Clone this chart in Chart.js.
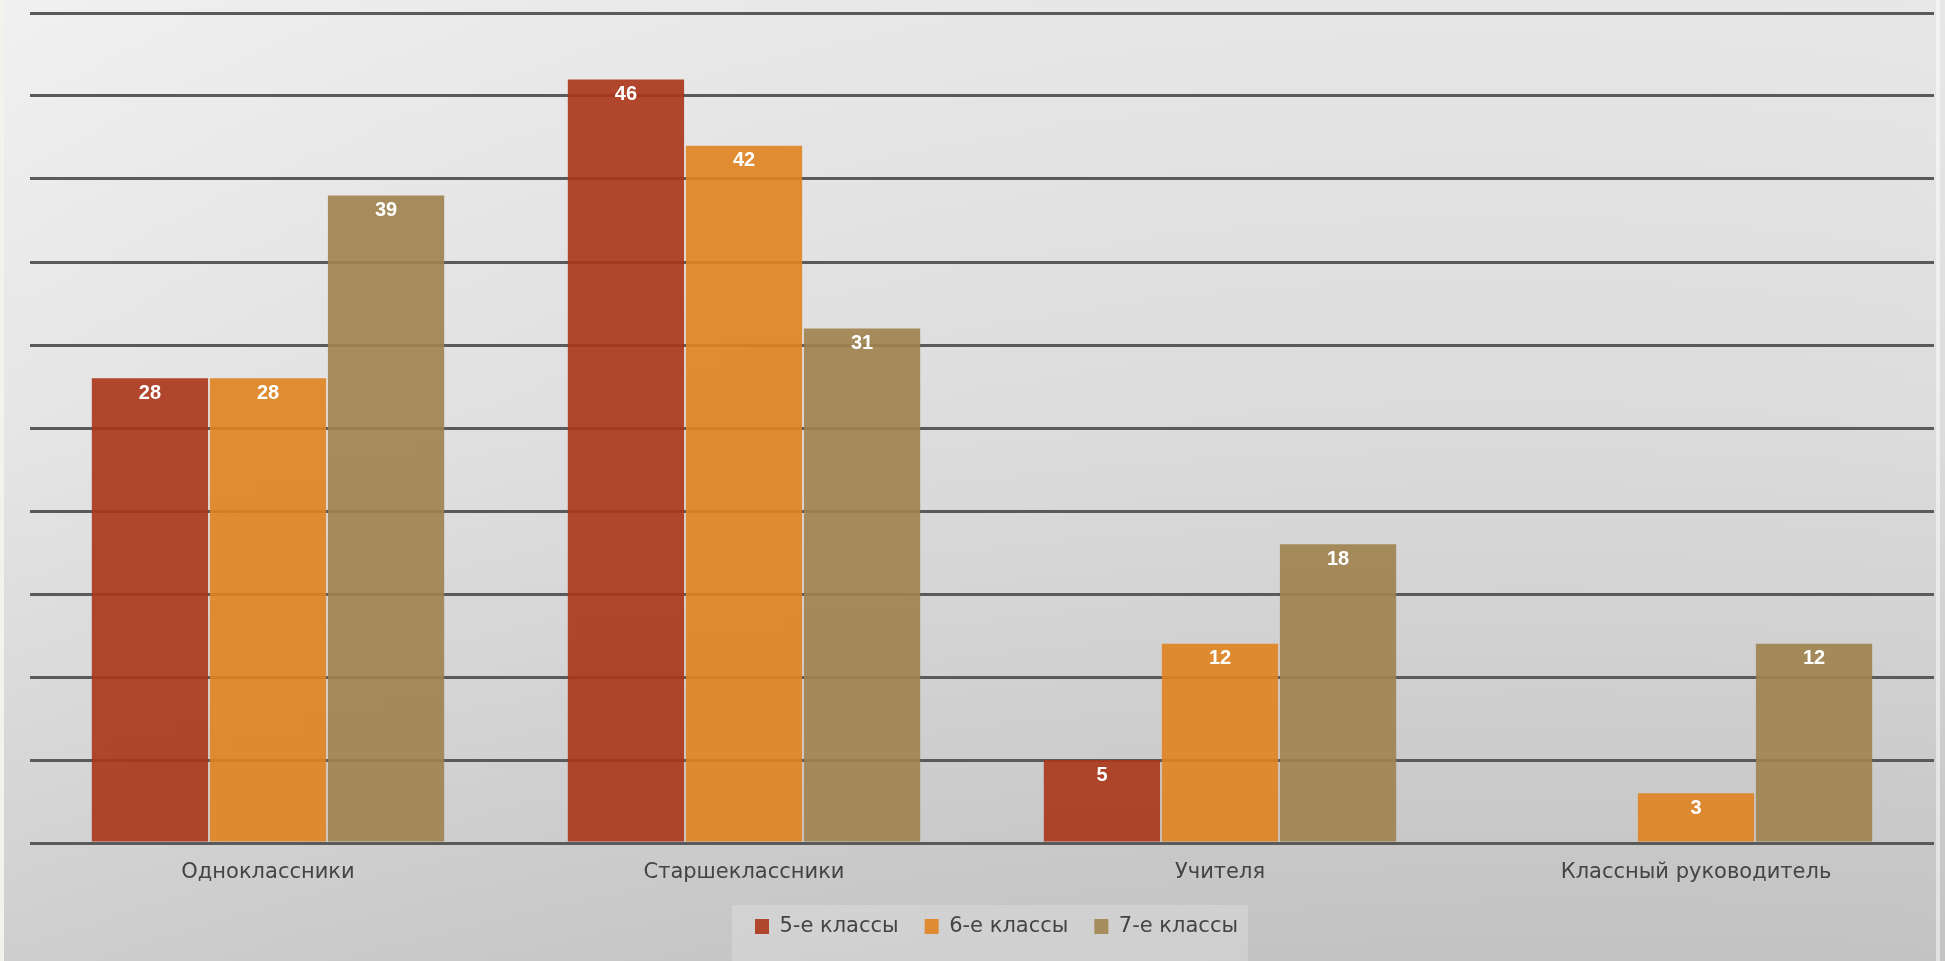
<!DOCTYPE html>
<html><head><meta charset="utf-8">
<script src="https://cdn.jsdelivr.net/npm/chart.js@4.4.0/dist/chart.umd.min.js"></script>
<style>html,body{margin:0;padding:0;overflow:hidden;background:#dcdcdc}#wrap{width:1945px;height:961px;position:relative}</style>
</head><body><div id="wrap"><canvas id="c"></canvas></div>
<script>
const categories = ['Одноклассники', 'Старшеклассники', 'Учителя', 'Классный руководитель'];
const seriesNames = ['5-е классы', '6-е классы', '7-е классы'];
const grade5 = [28, 46, 5, 0];
const grade6 = [28, 42, 12, 3];
const grade7 = [39, 31, 18, 12];
const yMin = 0, yMax = 50, yStep = 5;

const seriesColors = ['rgba(170,54,24,0.91)', 'rgba(222,131,33,0.91)', 'rgba(159,131,78,0.91)'];
const legendColors = ['#B0462B', '#DF8B33', '#A68D5D'];

const background = {
  id: 'background',
  beforeDraw(chart) {
    const ctx = chart.ctx, w = chart.width, h = chart.height;
    ctx.save();
    const g = ctx.createLinearGradient(0, 0, 0, h);
    g.addColorStop(0, '#efefef');
    g.addColorStop(0.45, '#e3e3e3');
    g.addColorStop(1, '#c9c9c9');
    ctx.fillStyle = g;
    ctx.fillRect(0, 0, w, h);
    const g2 = ctx.createLinearGradient(0, 0, w, 0);
    g2.addColorStop(0, 'rgba(255,255,255,0.10)');
    g2.addColorStop(1, 'rgba(0,0,0,0.03)');
    ctx.fillStyle = g2;
    ctx.fillRect(0, 0, w, h);
    ctx.fillStyle = '#f2f4ea';
    ctx.fillRect(0, 0, 4, h);
    ctx.fillStyle = 'rgba(255,255,255,0.5)';
    ctx.fillRect(1936, 0, 4, h);
    // lighter panel behind legend
    const lg = chart.legend;
    if (lg && lg.lineWidths && lg.lineWidths.length) {
      const pad = lg.options.labels.padding;
      const x0 = (lg.left + pad + lg.right - lg.lineWidths[0]) / 2;
      const x1 = x0 + lg.lineWidths[0] - pad;
      ctx.fillStyle = 'rgba(255,255,255,0.2)';
      ctx.fillRect(x0 - 23, lg.top + 15, (x1 - x0) + 33, h - lg.top - 15);
    }
    ctx.restore();
  }
};

const valueLabels = {
  id: 'valueLabels',
  afterDatasetsDraw(chart) {
    const ctx = chart.ctx;
    ctx.save();
    ctx.font = 'bold 20px "Liberation Sans", Arial, sans-serif';
    ctx.fillStyle = '#ffffff';
    ctx.textAlign = 'center';
    ctx.textBaseline = 'middle';
    chart.data.datasets.forEach((ds, i) => {
      const meta = chart.getDatasetMeta(i);
      meta.data.forEach((bar, j) => {
        const v = ds.data[j];
        if (!v) return;
        ctx.fillText(String(v), bar.x, bar.y + 15);
      });
    });
    ctx.restore();
  }
};

const shiftLegend = {
  id: 'shiftLegend',
  afterLayout(chart) {
    const lg = chart.legend;
    if (lg) { lg.left += 29; }
  }
};

new Chart(document.getElementById('c'), {
  type: 'bar',
  data: {
    labels: categories,
    datasets: [
      { label: seriesNames[0], data: grade5, backgroundColor: seriesColors[0] },
      { label: seriesNames[1], data: grade6, backgroundColor: seriesColors[1] },
      { label: seriesNames[2], data: grade7, backgroundColor: seriesColors[2] }
    ]
  },
  options: {
    responsive: true,
    maintainAspectRatio: false,
    animation: false,
    categoryPercentage: 0.744,
    barPercentage: 0.985,
    layout: { padding: { left: 30, right: 11, top: 13, bottom: 14 } },
    plugins: {
      tooltip: { enabled: false },
      legend: {
        position: 'bottom',
        labels: {
          boxWidth: 14, boxHeight: 15, padding: 26,
          color: '#444',
          font: { family: '"DejaVu Sans", sans-serif', size: 21 },
          generateLabels(chart) {
            return chart.data.datasets.map((ds, i) => ({
              text: ds.label, fillStyle: legendColors[i], strokeStyle: legendColors[i],
              lineWidth: 0, hidden: false, datasetIndex: i, fontColor: '#444'
            }));
          }
        }
      }
    },
    scales: {
      x: {
        grid: { display: false, drawTicks: false },
        border: { display: false },
        ticks: { color: '#444', padding: 17, font: { family: '"DejaVu Sans", sans-serif', size: 21 } },
        afterFit(scale) { scale.height = 47; }
      },
      y: {
        min: yMin, max: yMax,
        ticks: { display: false, stepSize: yStep },
        border: { display: false },
        grid: { color: '#5a5a5a', lineWidth: 3, drawTicks: false }
      }
    }
  },
  plugins: [background, valueLabels, shiftLegend]
});
</script>
</body></html>
